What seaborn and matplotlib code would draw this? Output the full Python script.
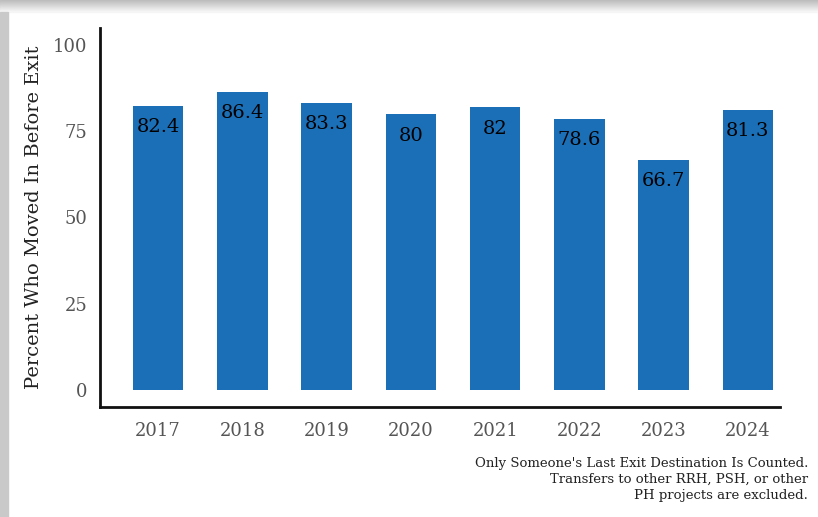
import seaborn as sns
import matplotlib.pyplot as plt
import matplotlib.patches as mpatches
import numpy as np
import pandas as pd

years = ['2017', '2018', '2019', '2020', '2021', '2022', '2023', '2024']
pct = [82.4, 86.4, 83.3, 80, 82, 78.6, 66.7, 81.3]
labels = ['82.4', '86.4', '83.3', '80', '82', '78.6', '66.7', '81.3']
yticks = [0, 25, 50, 75, 100]
caption = ("Only Someone's Last Exit Destination Is Counted.\n"
           "Transfers to other RRH, PSH, or other\n"
           "PH projects are excluded.")

df = pd.DataFrame({'year': years, 'pct': pct})

sns.set_style('white')
plt.rcParams['font.family'] = ['DejaVu Serif']

fig = plt.figure(figsize=(8.18, 5.17), dpi=100)
fig.patch.set_facecolor('white')

# shadow frame (top and left)
W, H = 818, 517
for i in range(12):
    g = 0.74 + 0.02 * i
    fig.patches.append(mpatches.Rectangle((0, 1 - (i + 1) / H), 1, 1 / H,
                       transform=fig.transFigure, color=(g, g, g), zorder=0))
fig.patches.append(mpatches.Rectangle((0, 0), 8 / W, 1 - 12 / H,
                   transform=fig.transFigure, color='#c9c9c9', zorder=0))

ax = fig.add_axes([100 / W, 1 - 407 / H, 680 / W, 379 / H])
sns.barplot(data=df, x='year', y='pct', color='#1a6fb7', saturation=1,
            width=0.6, linewidth=0, ax=ax)

for i, (v, lab) in enumerate(zip(pct, labels)):
    ax.text(i, v - 3.6, lab, ha='center', va='top', fontsize=14, color='black')

ax.set_ylim(-5, 105)
ax.set_xlim(-0.69, 7.38)
ax.set_yticks(yticks)
ax.set_xlabel('')
ax.set_ylabel('Percent Who Moved In Before Exit', fontsize=14, color='#222222', labelpad=7)
ax.tick_params(axis='both', length=4, width=1.5, color='#222222',
               labelsize=13, labelcolor='#555555', direction='out')
ax.tick_params(axis='x', pad=7)
ax.tick_params(axis='y', pad=5)
for side in ['top', 'right']:
    ax.spines[side].set_visible(False)
for side in ['left', 'bottom']:
    ax.spines[side].set_linewidth(2)
    ax.spines[side].set_color('#111111')

fig.text(808 / W, 1 - 457 / H, caption, ha='right', va='top', fontsize=9.5,
         color='#222222', linespacing=1.3)

fig.savefig('out.png', dpi=100)
